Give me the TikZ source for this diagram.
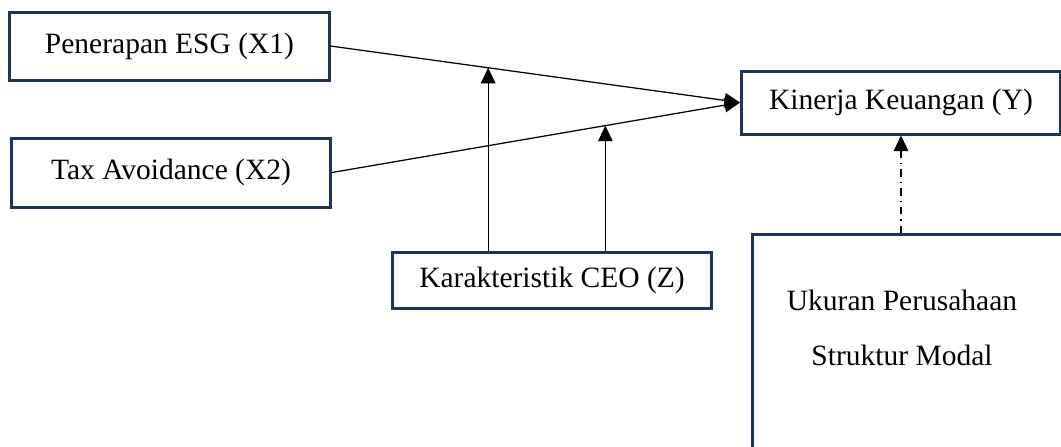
\documentclass[tikz,border=0pt]{standalone}
\usepackage{fontspec}
\setmainfont{Liberation Serif}
\usepackage{tikz}
\usetikzlibrary{arrows.meta, positioning}

\definecolor{boxnavy}{HTML}{1F3556}

\begin{document}
\begin{tikzpicture}[
      x=0.4pt, y=-0.4pt,
      varbox/.style={draw=boxnavy, line width=1.2pt, minimum width=127.6pt, inner sep=0pt, align=center, font=\fontsize{11.8}{14}\selectfont},
      arrow/.style={-{Triangle[length=6.2pt, width=5.8pt]}, line width=0.5pt},
      dasharrow/.style={arrow, dash dot}
    ]
    \useasboundingbox (0,0) rectangle (1061,447);

    \node[varbox, minimum height=27.2pt] (esg) at (169.5,46) {Penerapan ESG (X1)};
    \node[varbox, minimum height=27.6pt] (tax) at (171,172.5) {Tax Avoidance (X2)};
    \node[varbox, minimum height=25.2pt] (kin) at (901,102.5) {Kinerja Keuangan (Y)};
    \node[varbox, minimum height=22.4pt] (ceo) at (552,280) {Karakteristik CEO (Z)};
    \node[varbox, minimum width=129.6pt, minimum height=94.8pt, anchor=north west] (ctrl) at (751,233) {};
    \node[align=center, font=\fontsize{11.8}{14}\selectfont] (ctrltext) at (902,328) {Ukuran Perusahaan\\[8pt]Struktur Modal};

    \draw[arrow] (esg.east) -- coordinate[pos=0.385] (m1) (kin.west);
    \draw[arrow] (tax.east) -- coordinate[pos=0.67] (m2) (kin.west);
    \draw[arrow] (ceo.north -| m1) -- (m1);
    \draw[arrow] (ceo.north -| m2) -- (m2);
    \draw[dasharrow] (kin.south |- ctrl.north) -- (kin.south);
  \end{tikzpicture}
\end{document}
